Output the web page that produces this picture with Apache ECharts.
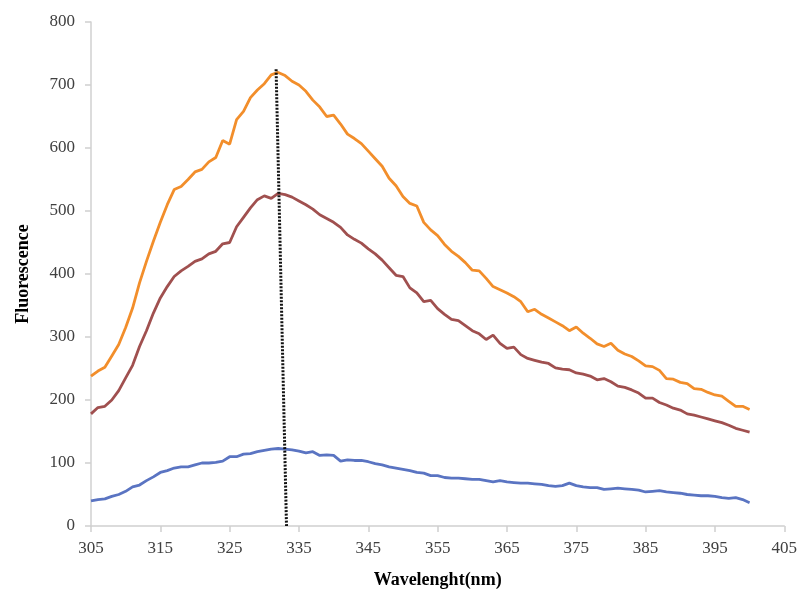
<!DOCTYPE html>
<html>
<head>
<meta charset="utf-8">
<script src="https://cdn.jsdelivr.net/npm/echarts@6/dist/echarts.min.js"></script>
<style>html,body{margin:0;padding:0;background:#fff;}#c{width:800px;height:595px;}</style>
</head>
<body>
<div id="c"></div>
<script>
var wavelengths = [];
for (var w = 305; w <= 400; w++) wavelengths.push(w);

var orange = [238,246,252,270,288,315,346,386,420,452,482,510,534,539,550,562,566,578,585,612,606,645,658,680,692,702,716,720,715,706,700,690,676,665,650,652,638,622,615,607,595,583,571,552,540,523,512,508,482,470,461,447,436,428,418,406,405,393,380,375,370,364,356,340,344,336,330,324,318,310,316,306,298,289,285,290,279,273,269,262,254,253,247,234,233,228,226,218,217,212,208,206,198,190,190,185];

var brown = [178,188,190,200,215,235,255,285,310,338,362,380,396,405,412,420,424,432,436,448,450,475,490,505,518,524,520,528,526,522,516,510,503,494,488,482,474,462,455,449,440,432,422,410,398,396,378,370,356,358,345,336,328,326,318,310,305,296,303,290,282,284,272,266,263,260,258,251,249,248,243,241,238,232,234,229,222,220,216,211,203,203,196,192,187,184,178,176,173,170,167,164,160,155,152,149];

var blue = [40,42,43,47,50,55,62,65,72,78,85,88,92,94,94,97,100,100,101,103,110,110,114,115,118,120,122,123,122,121,119,116,118,112,113,112,103,105,104,104,102,99,97,94,92,90,88,85,84,80,80,77,76,76,75,74,74,72,70,72,70,69,68,68,67,66,64,63,64,68,64,62,61,61,58,59,60,59,58,57,54,55,56,54,53,52,50,49,48,48,47,45,44,45,42,37];

var guideX = [331.7, 333.2];
var guideY = [725, 0];

function pairs(xs, ys) { return xs.map(function (x, i) { return [x, ys[i]]; }); }

var chart = echarts.init(document.getElementById('c'));
var fontFam = '"Liberation Serif", "DejaVu Serif", serif';
chart.setOption({
  animation: false,
  backgroundColor: '#fff',
  grid: { left: 91, right: 15, top: 22, bottom: 69 },
  xAxis: {
    type: 'value', min: 305, max: 405, interval: 10,
    name: 'Wavelenght(nm)', nameLocation: 'middle', nameGap: 45,
    nameTextStyle: { fontFamily: fontFam, fontWeight: 'bold', fontSize: 18, color: '#000' },
    axisLine: { show: true, lineStyle: { color: '#d0d0d0', width: 1.5 } },
    axisTick: { show: true, length: 6, lineStyle: { color: '#d0d0d0', width: 1.5 } },
    axisLabel: { fontFamily: fontFam, fontSize: 17, color: '#404040', margin: 14 },
    splitLine: { show: false }
  },
  yAxis: {
    type: 'value', min: 0, max: 800, interval: 100,
    name: 'Fluorescence', nameLocation: 'middle', nameGap: 59,
    nameTextStyle: { fontFamily: fontFam, fontWeight: 'bold', fontSize: 18, color: '#000' },
    axisLine: { show: true, lineStyle: { color: '#d0d0d0', width: 1.5 } },
    axisTick: { show: true, length: 6, lineStyle: { color: '#d0d0d0', width: 1.5 } },
    axisLabel: { fontFamily: fontFam, fontSize: 17, color: '#404040', margin: 16 },
    splitLine: { show: false }
  },
  series: [
    { type: 'line', data: pairs(wavelengths, orange), showSymbol: false, lineStyle: { color: '#F28E2B', width: 2.8 }, itemStyle: { color: '#F28E2B' } },
    { type: 'line', data: pairs(wavelengths, brown), showSymbol: false, lineStyle: { color: '#A0504F', width: 2.8 }, itemStyle: { color: '#A0504F' } },
    { type: 'line', data: pairs(wavelengths, blue), showSymbol: false, lineStyle: { color: '#5A74C2', width: 2.8 }, itemStyle: { color: '#5A74C2' } },
    { type: 'line', data: pairs(guideX, guideY), showSymbol: false, z: 5, lineStyle: { color: '#111', width: 3, type: [2, 1.5] } }
  ]
});
</script>
</body>
</html>
